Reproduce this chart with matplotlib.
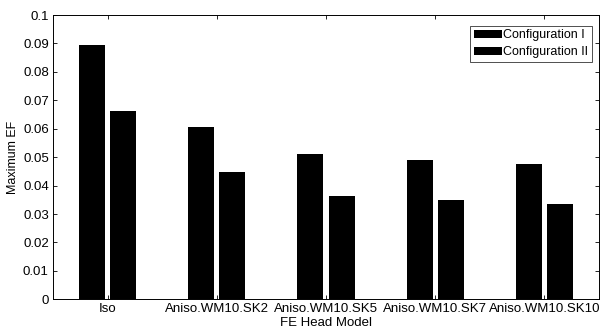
import matplotlib
matplotlib.use("Agg")
import matplotlib.pyplot as plt
import numpy as np

categories = ["Iso", "Aniso.WM10.SK2", "Aniso.WM10.SK5", "Aniso.WM10.SK7", "Aniso.WM10.SK10"]
config1 = [0.0894, 0.0607, 0.0510, 0.0489, 0.0476]
config2 = [0.0661, 0.0447, 0.0363, 0.0348, 0.0335]
series_names = ["Configuration I", "Configuration II"]
yticks = [0, 0.01, 0.02, 0.03, 0.04, 0.05, 0.06, 0.07, 0.08, 0.09, 0.1]
ytick_labels = ["0", "0.01", "0.02", "0.03", "0.04", "0.05", "0.06", "0.07", "0.08", "0.09", "0.1"]

plt.rcParams['font.family'] = ['Liberation Sans', 'DejaVu Sans']

fig = plt.figure(figsize=(6.01, 3.30), dpi=100)
ax = fig.add_axes([0.0882, 0.093, 0.9085, 0.8615])

x = np.arange(1, len(categories) + 1)
off = 0.143
w = 0.237
ax.bar(x - off, config1, width=w, color="black", label=series_names[0])
ax.bar(x + off, config2, width=w, color="black", label=series_names[1])

ax.set_xlim(0.5, 5.5)
ax.set_ylim(0, 0.1)
ax.set_xticks(x)
ax.set_xticklabels(categories, fontsize=9.5)
ax.set_yticks(yticks)
ax.set_yticklabels(ytick_labels, fontsize=9.5)
ax.tick_params(direction="in", top=True, right=True, length=3, width=0.6, pad=3)
for s in ax.spines.values():
    s.set_linewidth(0.7)

ax.set_xlabel("FE Head Model", fontsize=9.5, labelpad=1)
ax.set_ylabel("Maximum EF", fontsize=9, labelpad=3)

leg = ax.legend(loc="upper right", fontsize=9, frameon=True, fancybox=False,
                edgecolor="black", borderpad=0.3, handlelength=2.2, handletextpad=0.15,
                labelspacing=0.4, bbox_to_anchor=(0.999, 0.985))
leg.get_frame().set_linewidth(0.6)

fig.savefig("out.png", dpi=100)
